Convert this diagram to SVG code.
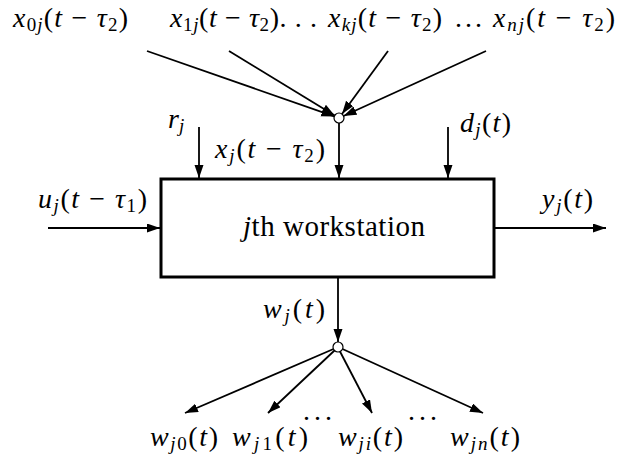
<svg xmlns="http://www.w3.org/2000/svg" width="619" height="464" viewBox="0 0 619 464" font-family="Liberation Serif, DejaVu Serif, serif">
<style>
text{font-family:Liberation Serif, DejaVu Serif, serif}
.t{font-size:28px;fill:#000}
.i{font-style:italic}
.s{font-size:19px}
.ar{stroke:#000;stroke-width:1.8;fill:none;marker-end:url(#ah)}
</style>
<defs>
<marker id="ah" markerUnits="userSpaceOnUse" markerWidth="14" markerHeight="10" refX="13" refY="4.5" orient="auto">
<path d="M0,0 L13,4.5 L0,9 z" fill="#000"/>
</marker>
</defs>
<rect width="619" height="464" fill="#fff"/>
<g id="connectors">
<line class="ar" x1="147" y1="51" x2="334.3" y2="116.4"/>
<line class="ar" x1="229" y1="51" x2="334.7" y2="115.4"/>
<line class="ar" x1="388" y1="51" x2="342" y2="114"/>
<line class="ar" x1="486" y1="51" x2="343.5" y2="116"/>
<line class="ar" x1="339" y1="123" x2="339" y2="178"/>
<line class="ar" x1="199" y1="127" x2="199" y2="178"/>
<line class="ar" x1="448" y1="127" x2="448" y2="178"/>
<line class="ar" x1="48" y1="228" x2="160" y2="228"/>
<line class="ar" x1="495" y1="228" x2="606" y2="228"/>
<line class="ar" x1="338" y1="278" x2="338" y2="342"/>
<line class="ar" x1="333.5" y1="349" x2="185" y2="413"/>
<line class="ar" x1="334.5" y1="350.5" x2="268" y2="413"/>
<line class="ar" x1="340" y1="351.5" x2="372" y2="413"/>
<line class="ar" x1="342.5" y1="349" x2="483" y2="413"/>
</g>
<g id="junction-top"><circle cx="339" cy="118" r="5" fill="#fff" stroke="#000" stroke-width="1.2"/></g>
<g id="junction-bottom"><circle cx="338" cy="347" r="5" fill="#fff" stroke="#000" stroke-width="1.2"/></g>
<g id="workstation">
<rect x="161" y="179" width="333" height="98" fill="#fff" stroke="#000" stroke-width="3"/>
<text class="t" x="243" y="236" style="font-size:29px" textLength="182"><tspan class="i">j</tspan>th workstation</text>
</g>
<g id="inputs-top">
<text class="t" x="13" y="27" textLength="115"><tspan class="i">x</tspan><tspan class="s" dy="4">0</tspan><tspan class="s i">j</tspan><tspan dy="-4">(</tspan><tspan class="i">t</tspan><tspan> − </tspan><tspan class="i">τ</tspan><tspan class="s" dy="4">2</tspan><tspan dy="-4">)</tspan></text>
<text class="t" x="170" y="27" textLength="147"><tspan class="i">x</tspan><tspan class="s" dy="4">1</tspan><tspan class="s i">j</tspan><tspan dy="-4">(</tspan><tspan class="i">t</tspan><tspan> − </tspan><tspan class="i">τ</tspan><tspan class="s" dy="4">2</tspan><tspan dy="-4">). . .</tspan></text>
<text class="t" x="328" y="27" textLength="114"><tspan class="i">x</tspan><tspan class="s i" dy="4">kj</tspan><tspan dy="-4">(</tspan><tspan class="i">t</tspan><tspan> − </tspan><tspan class="i">τ</tspan><tspan class="s" dy="4">2</tspan><tspan dy="-4">)</tspan></text>
<text class="t" x="455" y="27" textLength="27">. . .</text>
<text class="t" x="493" y="27" textLength="122"><tspan class="i">x</tspan><tspan class="s i" dy="4">nj</tspan><tspan dy="-4">(</tspan><tspan class="i">t</tspan><tspan> − </tspan><tspan class="i">τ</tspan><tspan class="s" dy="4">2</tspan><tspan dy="-4">)</tspan></text>
</g>
<g id="labels">
<text class="t" x="168" y="128"><tspan class="i">r</tspan><tspan class="s i" dy="4">j</tspan></text>
<text class="t" x="215" y="158" textLength="110"><tspan class="i">x</tspan><tspan class="s i" dy="4">j</tspan><tspan dy="-4">(</tspan><tspan class="i">t</tspan><tspan> − </tspan><tspan class="i">τ</tspan><tspan class="s" dy="4">2</tspan><tspan dy="-4">)</tspan></text>
<text class="t" x="460" y="132" textLength="51"><tspan class="i">d</tspan><tspan class="s i" dy="4">j</tspan><tspan dy="-4">(</tspan><tspan class="i">t</tspan><tspan>)</tspan></text>
<text class="t" x="38" y="208" textLength="109"><tspan class="i">u</tspan><tspan class="s i" dy="4">j</tspan><tspan dy="-4">(</tspan><tspan class="i">t</tspan><tspan> − </tspan><tspan class="i">τ</tspan><tspan class="s" dy="4">1</tspan><tspan dy="-4">)</tspan></text>
<text class="t" x="542" y="208" textLength="51"><tspan class="i">y</tspan><tspan class="s i" dy="4">j</tspan><tspan dy="-4">(</tspan><tspan class="i">t</tspan><tspan>)</tspan></text>
<text class="t" x="263" y="318" textLength="62"><tspan class="i">w</tspan><tspan class="s i" dy="4">j</tspan><tspan dy="-4">(</tspan><tspan class="i">t</tspan><tspan>)</tspan></text>
</g>
<g id="outputs-bottom">
<text class="t" x="150" y="446" textLength="68"><tspan class="i">w</tspan><tspan class="s i" dy="4">j</tspan><tspan class="s">0</tspan><tspan dy="-4">(</tspan><tspan class="i">t</tspan><tspan>)</tspan></text>
<text class="t" x="232" y="446" textLength="76"><tspan class="i">w</tspan><tspan class="s i" dy="4">j</tspan><tspan class="s">1</tspan><tspan dy="-4">(</tspan><tspan class="i">t</tspan><tspan>)</tspan></text>
<text class="t" x="303" y="420" textLength="29">. . .</text>
<text class="t" x="338" y="446" textLength="65"><tspan class="i">w</tspan><tspan class="s i" dy="4">ji</tspan><tspan dy="-4">(</tspan><tspan class="i">t</tspan><tspan>)</tspan></text>
<text class="t" x="408" y="420" textLength="29">. . .</text>
<text class="t" x="450" y="446" textLength="70"><tspan class="i">w</tspan><tspan class="s i" dy="4">jn</tspan><tspan dy="-4">(</tspan><tspan class="i">t</tspan><tspan>)</tspan></text>
</g>
</svg>
